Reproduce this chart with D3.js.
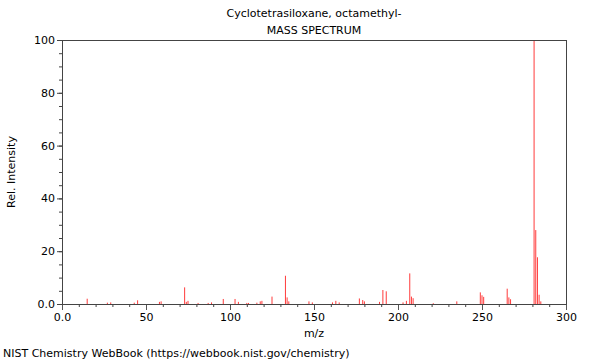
<!DOCTYPE html>
<html><head><meta charset="utf-8">
<script src="https://cdn.jsdelivr.net/npm/d3@7"></script>
<style>body{margin:0;background:#fff}svg{display:block;font-family:"DejaVu Sans",sans-serif}</style>
</head><body><svg id="c" width="600" height="360"></svg>
<script>
const mz =        [15,27,29,43,45,58,59,73,74,75,81,87,89,96,103,105,110,111,116,118,119,125,133,134,135,147,149,161,163,165,177,179,180,189,191,193,203,205,207,208,209,221,235,249,250,251,265,266,267,281,282,283,284,285];
const intensity = [2.0,0.5,0.6,0.5,1.4,0.8,1.0,6.3,0.8,1.2,0.4,0.4,0.6,1.9,1.9,0.8,0.4,0.4,0.5,1.0,1.2,2.8,10.7,2.5,1.0,1.0,0.6,0.6,1.2,0.6,2.1,1.5,1.0,0.8,5.3,4.8,0.6,1.2,11.6,2.8,2.2,0.3,1.0,4.4,3.3,2.7,5.8,2.5,1.8,100,28,17.7,3.5,1.0];
const xTicks = [0,50,100,150,200,250,300];
const yTicks = [0,20,40,60,80,100];
const title = "Cyclotetrasiloxane, octamethyl-";
const subtitle = "MASS SPECTRUM";

const svg = d3.select("#c");
const L=62,R=566,T=40,B=304;
const x = d3.scaleLinear().domain([0,300]).range([L,R]);
const y = d3.scaleLinear().domain([0,100]).range([B,T]);
const fmt = d => d===0 ? "0.0" : String(d);

// peaks
svg.append("g").selectAll("line").data(mz).join("line")
  .attr("x1",(d)=>x(d)).attr("x2",(d)=>x(d))
  .attr("y1",y(0)).attr("y2",(d,i)=>y(intensity[i]))
  .attr("stroke","#ff3b3b").attr("stroke-width",1);

// minor ticks
const ax = svg.append("g").attr("transform",`translate(0,${B})`)
  .call(d3.axisBottom(x).tickValues(d3.range(0,301,10)).tickSize(3).tickFormat(""));
ax.select(".domain").remove();
ax.selectAll("line").attr("stroke","#444");
const ay = svg.append("g").attr("transform",`translate(${L},0)`)
  .call(d3.axisLeft(y).tickValues(d3.range(0,101,5)).tickSize(3).tickFormat(""));
ay.select(".domain").remove();
ay.selectAll("line").attr("stroke","#444");

// major ticks
const gx = svg.append("g").attr("transform",`translate(0,${B})`)
  .call(d3.axisBottom(x).tickValues(xTicks).tickSize(6).tickFormat(fmt));
gx.select(".domain").remove();
gx.selectAll("line").attr("stroke","#555");
gx.selectAll("text").attr("font-size",11).attr("fill","#000").attr("font-family","DejaVu Sans").attr("y",9);
const gy = svg.append("g").attr("transform",`translate(${L},0)`)
  .call(d3.axisLeft(y).tickValues(yTicks).tickSize(5).tickFormat(fmt));
gy.select(".domain").remove();
gy.selectAll("line").attr("stroke","#444");
gy.selectAll("text").attr("font-size",11).attr("fill","#000").attr("font-family","DejaVu Sans").attr("x",-7);

// frame
svg.append("rect").attr("x",L+0.5).attr("y",T+0.5).attr("width",R-L).attr("height",B-T)
  .attr("fill","none").attr("stroke","#444").attr("stroke-width",1);

// texts
svg.append("text").attr("x",(L+R)/2).attr("y",17).attr("text-anchor","middle").attr("font-size",11).text(title);
svg.append("text").attr("x",(L+R)/2).attr("y",34).attr("text-anchor","middle").attr("font-size",11).text(subtitle);
svg.append("text").attr("x",(L+R)/2).attr("y",337).attr("text-anchor","middle").attr("font-size",11).text("m/z");
svg.append("text").attr("transform",`translate(15,${(T+B)/2}) rotate(-90)`).attr("text-anchor","middle").attr("font-size",11).text("Rel. Intensity");
svg.append("text").attr("x",3).attr("y",357).attr("font-size",11).text("NIST Chemistry WebBook (https://webbook.nist.gov/chemistry)");
</script></body></html>
